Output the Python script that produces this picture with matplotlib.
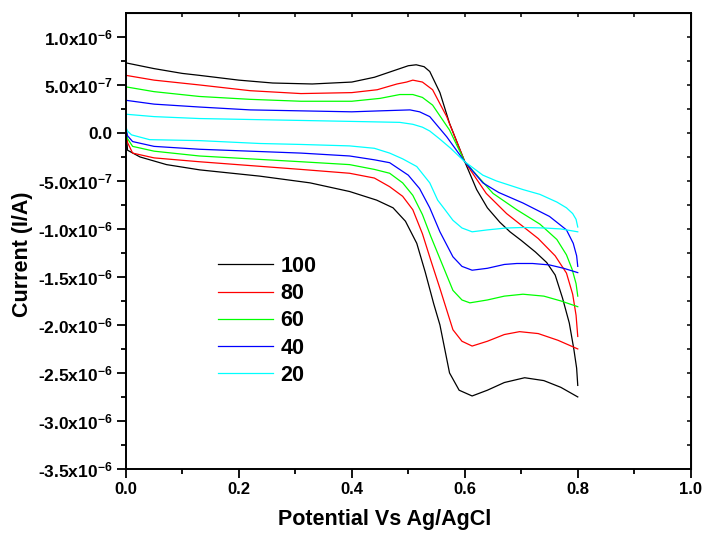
import numpy as np
import matplotlib.pyplot as plt

# Scan rate labels and line colours
labels = ['100', '80', '60', '40', '20']
colors = ['#000000', '#ff0000', '#00ff00', '#0000ff', '#00ffff']

# Potential (V) and current (uA), upper (forward) branches
x_up_100 = [0, 0.05, 0.1, 0.13, 0.2, 0.26, 0.33, 0.4, 0.44, 0.48, 0.5, 0.514, 0.528, 0.538, 0.556, 0.573, 0.6,
            0.621, 0.64, 0.662, 0.68, 0.70, 0.725, 0.745, 0.76, 0.773, 0.785, 0.793, 0.798, 0.8]
i_up_100 = [0.73, 0.67, 0.62, 0.60, 0.55, 0.52, 0.51, 0.53, 0.58, 0.66, 0.70, 0.71, 0.69, 0.64, 0.42, 0.10, -0.30,
            -0.59, -0.78, -0.93, -1.03, -1.12, -1.24, -1.35, -1.48, -1.72, -1.98, -2.25, -2.45, -2.63]

x_up_80 = [0, 0.05, 0.13, 0.22, 0.31, 0.4, 0.445, 0.48, 0.497, 0.508, 0.525, 0.543, 0.568, 0.6,
           0.638, 0.674, 0.73, 0.76, 0.78, 0.791, 0.797, 0.8]
i_up_80 = [0.60, 0.55, 0.50, 0.44, 0.41, 0.42, 0.45, 0.51, 0.53, 0.55, 0.53, 0.45, 0.17, -0.30,
           -0.63, -0.84, -1.10, -1.28, -1.46, -1.68, -1.90, -2.12]

x_up_60 = [0, 0.05, 0.13, 0.22, 0.31, 0.4, 0.45, 0.485, 0.508, 0.525, 0.543, 0.573, 0.6,
           0.65, 0.692, 0.733, 0.763, 0.78, 0.79, 0.797, 0.8]
i_up_60 = [0.48, 0.43, 0.38, 0.35, 0.33, 0.33, 0.36, 0.40, 0.40, 0.37, 0.29, 0.03, -0.30,
           -0.63, -0.80, -0.95, -1.11, -1.27, -1.42, -1.57, -1.70]

x_up_40 = [0, 0.05, 0.13, 0.22, 0.31, 0.4, 0.45, 0.503, 0.52, 0.538, 0.568, 0.6,
           0.632, 0.66, 0.703, 0.75, 0.78, 0.792, 0.798, 0.8]
i_up_40 = [0.34, 0.30, 0.27, 0.24, 0.23, 0.22, 0.23, 0.24, 0.22, 0.17, -0.04, -0.30,
           -0.52, -0.62, -0.73, -0.87, -1.01, -1.15, -1.28, -1.39]

x_up_20 = [0, 0.05, 0.13, 0.22, 0.31, 0.4, 0.485, 0.508, 0.525, 0.538, 0.555, 0.575, 0.6,
           0.632, 0.656, 0.703, 0.733, 0.763, 0.78, 0.791, 0.797, 0.8]
i_up_20 = [0.195, 0.17, 0.15, 0.14, 0.13, 0.12, 0.11, 0.09, 0.06, 0.02, -0.06, -0.16, -0.30,
           -0.44, -0.50, -0.59, -0.64, -0.72, -0.78, -0.84, -0.90, -0.98]

# lower (reverse) branches
x_dn_100 = [0, 0.003, 0.025, 0.072, 0.131, 0.237, 0.326, 0.396, 0.444, 0.473, 0.495, 0.515, 0.53, 0.545,
            0.556, 0.573, 0.59, 0.613, 0.64, 0.67, 0.706, 0.74, 0.77, 0.8]
i_dn_100 = [0.05, -0.18, -0.25, -0.33, -0.385, -0.45, -0.52, -0.61, -0.70, -0.78, -0.92, -1.15, -1.45, -1.78,
            -2.00, -2.50, -2.68, -2.74, -2.68, -2.60, -2.55, -2.58, -2.65, -2.75]

x_dn_80 = [0, 0.003, 0.012, 0.05, 0.13, 0.22, 0.31, 0.396, 0.44, 0.467, 0.49, 0.508, 0.525, 0.54,
           0.556, 0.579, 0.595, 0.613, 0.64, 0.67, 0.697, 0.73, 0.765, 0.8]
i_dn_80 = [0.05, -0.10, -0.21, -0.26, -0.30, -0.34, -0.38, -0.42, -0.47, -0.56, -0.66, -0.80, -1.05, -1.33,
           -1.62, -2.05, -2.17, -2.22, -2.17, -2.10, -2.07, -2.09, -2.16, -2.25]

x_dn_60 = [0, 0.003, 0.012, 0.05, 0.13, 0.22, 0.31, 0.396, 0.44, 0.467, 0.49, 0.508, 0.525, 0.54,
           0.556, 0.579, 0.595, 0.609, 0.64, 0.67, 0.703, 0.74, 0.77, 0.8]
i_dn_60 = [0.05, -0.06, -0.14, -0.19, -0.24, -0.27, -0.30, -0.33, -0.38, -0.42, -0.52, -0.65, -0.85, -1.08,
           -1.31, -1.64, -1.74, -1.77, -1.74, -1.70, -1.68, -1.70, -1.75, -1.81]

x_dn_40 = [0, 0.003, 0.012, 0.05, 0.13, 0.22, 0.31, 0.396, 0.44, 0.467, 0.50, 0.52, 0.538,
           0.556, 0.579, 0.595, 0.613, 0.64, 0.67, 0.692, 0.72, 0.75, 0.775, 0.8]
i_dn_40 = [0.05, -0.03, -0.09, -0.14, -0.17, -0.19, -0.21, -0.24, -0.28, -0.31, -0.44, -0.58, -0.78,
           -1.03, -1.29, -1.39, -1.43, -1.41, -1.37, -1.36, -1.36, -1.375, -1.41, -1.455]

x_dn_20 = [0, 0.003, 0.01, 0.042, 0.13, 0.237, 0.31, 0.396, 0.44, 0.467, 0.49, 0.515, 0.538, 0.552,
           0.565, 0.579, 0.595, 0.613, 0.64, 0.674, 0.703, 0.74, 0.77, 0.8]
i_dn_20 = [0.06, 0.02, -0.02, -0.07, -0.08, -0.11, -0.12, -0.135, -0.16, -0.21, -0.27, -0.35, -0.52, -0.70,
           -0.80, -0.91, -0.99, -1.03, -1.01, -0.99, -0.985, -0.99, -1.00, -1.03]

up_x = [x_up_100, x_up_80, x_up_60, x_up_40, x_up_20]
up_i = [i_up_100, i_up_80, i_up_60, i_up_40, i_up_20]
dn_x = [x_dn_100, x_dn_80, x_dn_60, x_dn_40, x_dn_20]
dn_i = [i_dn_100, i_dn_80, i_dn_60, i_dn_40, i_dn_20]

y_ticks = [1.0e-6, 5.0e-7, 0.0, -5.0e-7, -1.0e-6, -1.5e-6, -2.0e-6, -2.5e-6, -3.0e-6, -3.5e-6]
y_tick_labels = [r'1.0x10$^{-6}$', r'5.0x10$^{-7}$', '0.0', r'-5.0x10$^{-7}$', r'-1.0x10$^{-6}$',
                 r'-1.5x10$^{-6}$', r'-2.0x10$^{-6}$', r'-2.5x10$^{-6}$', r'-3.0x10$^{-6}$', r'-3.5x10$^{-6}$']
x_ticks = [0.0, 0.2, 0.4, 0.6, 0.8, 1.0]

plt.rcParams['font.family'] = ['Liberation Sans', 'DejaVu Sans']
plt.rcParams['font.weight'] = 'bold'
plt.rcParams['mathtext.fontset'] = 'custom'
plt.rcParams['mathtext.rm'] = 'Liberation Sans:bold'
plt.rcParams['mathtext.it'] = 'Liberation Sans:bold'
plt.rcParams['mathtext.bf'] = 'Liberation Sans:bold'
plt.rcParams['mathtext.default'] = 'regular'

fig = plt.figure(figsize=(7.07, 5.39), dpi=100)
ax = fig.add_axes([0.178, 0.130, 0.799, 0.846])

for k in range(len(labels)):
    ax.plot(np.array(dn_x[k]), np.array(dn_i[k]) * 1e-6, color=colors[k], lw=0.9, label=labels[k])
    ax.plot(np.array(up_x[k]), np.array(up_i[k]) * 1e-6, color=colors[k], lw=0.9)

ax.set_xlim(0, 1.0)
ax.set_ylim(-3.5e-6, 1.25e-6)
ax.set_xticks(x_ticks)
ax.set_xticklabels(['%.1f' % v for v in x_ticks])
ax.set_xticks(np.arange(0.1, 1.0, 0.2), minor=True)
ax.set_yticks(y_ticks)
ax.set_yticklabels(y_tick_labels)
ax.set_yticks(np.arange(-3.25e-6, 1.25e-6, 0.5e-6), minor=True)
ax.tick_params(which='major', direction='out', length=6.5, width=1.3, labelsize=12, pad=3)
ax.tick_params(axis='y', which='major', labelsize=12.5)
ax.tick_params(which='minor', direction='out', length=3.5, width=1.3)
for s in ax.spines.values():
    s.set_linewidth(1.4)

# mirrored inward ticks on top and right
top = ax.secondary_xaxis('top')
top.set_xticks(np.arange(0.1, 1.0, 0.1))
top.tick_params(direction='in', length=3, width=1.1, labeltop=False)
right = ax.secondary_yaxis('right')
right.set_yticks(np.arange(-3.25e-6, 1.25e-6, 0.25e-6))
right.tick_params(direction='in', length=3, width=1.1, labelright=False)

ax.set_xlabel('Potential Vs Ag/AgCl', fontsize=15.5, fontweight='bold')
ax.xaxis.set_label_coords(0.458, -0.088)
ax.set_ylabel('Current (I/A)', fontsize=15.5, fontweight='bold')
ax.yaxis.set_label_coords(-0.165, 0.47)

ax.legend(loc='upper left', bbox_to_anchor=(0.163, 0.467), frameon=False, handlelength=2.56,
          handletextpad=0.33, labelspacing=0.29, borderpad=0, borderaxespad=0,
          prop={'weight': 'bold', 'size': 15.5})

fig.savefig('out.png', dpi=100)
